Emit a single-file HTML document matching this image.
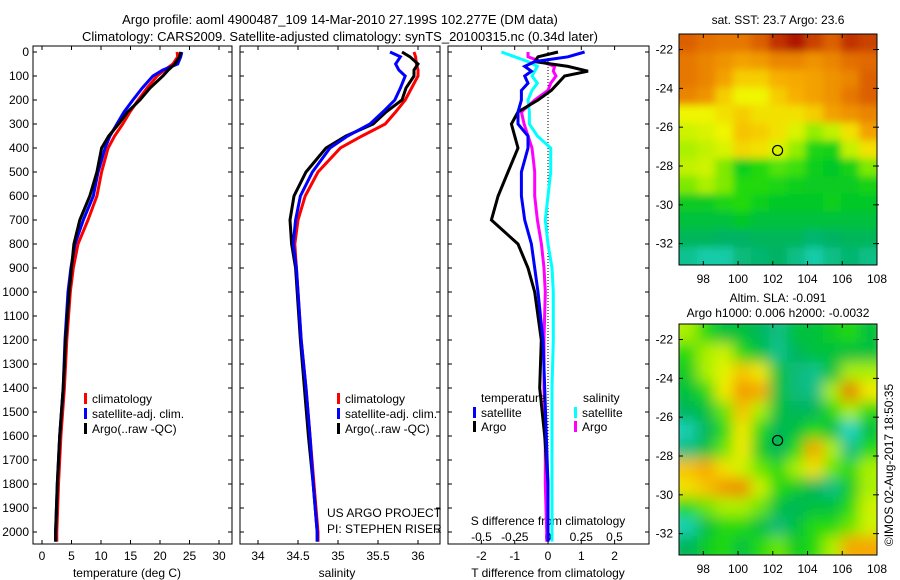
<!DOCTYPE html>
<html><head><meta charset="utf-8"><style>
body{margin:0;background:#fff;}
svg{display:block;font-family:"Liberation Sans",sans-serif;}
</style></head><body>
<svg id="c" width="900" height="580" viewBox="0 0 900 580">
<defs>
<filter id="blur1" x="0" y="0" width="1" height="1"><feGaussianBlur stdDeviation="4"/></filter>
<filter id="blur2" x="0" y="0" width="1" height="1"><feGaussianBlur stdDeviation="7"/></filter>
<clipPath id="clipA"><rect x="679" y="34" width="198" height="231"/></clipPath>
<clipPath id="clipB"><rect x="679" y="324" width="198" height="231"/></clipPath>
</defs>
<text x="340" y="24" font-size="13" text-anchor="middle">Argo profile: aoml 4900487_109 14-Mar-2010 27.199S 102.277E (DM data)</text>
<text x="340" y="41" font-size="13" text-anchor="middle">Climatology: CARS2009. Satellite-adjusted climatology: synTS_20100315.nc (0.34d later)</text>
<text x="127" y="577" font-size="12" text-anchor="middle">temperature (deg C)</text>
<text x="337" y="577" font-size="12" text-anchor="middle">salinity</text>
<text x="548" y="577" font-size="12" text-anchor="middle">T difference from climatology</text>
<text x="548" y="525" font-size="12" text-anchor="middle">S difference from climatology</text>
<text x="327" y="517" font-size="12">US ARGO PROJECT</text>
<text x="327" y="533" font-size="12">PI: STEPHEN RISER</text>
<text x="778" y="24" font-size="12" text-anchor="middle">sat. SST: 23.7 Argo: 23.6</text>
<text x="778" y="302" font-size="12" text-anchor="middle">Altim. SLA: -0.091</text>
<text x="778" y="317" font-size="12" text-anchor="middle">Argo h1000: 0.006 h2000: -0.0032</text>
<text transform="translate(893,465) rotate(-90)" font-size="12" text-anchor="middle">©IMOS 02-Aug-2017 18:50:35</text>
</svg>
<script>
// ---------- data ----------
const depths=[0,20,50,75,100,150,200,250,300,350,400,500,600,700,800,900,1000,1200,1400,1600,1800,2000,2040];
const tempClim=[22.9,23.0,22.2,20.8,19.5,17.8,16.3,14.9,13.7,12.3,11.2,10.1,9.3,7.8,6.1,5.3,4.8,4.2,3.8,3.2,2.8,2.5,2.5];
const tempSat=[23.7,23.5,23.0,20.5,18.8,17.0,15.4,13.9,12.7,11.5,10.7,9.5,8.7,7.0,5.6,4.9,4.4,3.9,3.6,3.0,2.6,2.3,2.3];
const tempArgo=[23.5,23.3,22.5,21.4,20.5,18.3,16.6,14.5,13.0,11.3,10.1,9.3,8.1,6.4,5.4,5.0,4.6,4.0,3.6,3.0,2.6,2.3,2.3];
const salClim=[35.95,35.97,35.98,36.0,36.0,35.92,35.84,35.72,35.59,35.3,35.03,34.75,34.59,34.5,34.46,34.48,34.5,34.54,34.6,34.65,34.7,34.75,34.75];
const salSat=[35.65,35.78,35.72,35.76,35.84,35.78,35.71,35.56,35.4,35.12,34.9,34.68,34.53,34.47,34.44,34.48,34.5,34.54,34.6,34.65,34.69,34.74,34.74];
const salArgo=[35.8,35.9,36.0,35.95,35.95,35.85,35.8,35.6,35.44,35.1,34.85,34.6,34.45,34.4,34.42,34.47,34.49,34.53,34.58,34.63,34.69,34.74,34.74];
const diffDepths=[0,20,40,60,80,100,130,160,200,250,300,350,400,500,600,700,800,900,1000,1200,1400,1600,1800,2000,2040];
const tDiffSat=[1.1,0.6,-0.4,-0.7,-0.5,-0.7,-0.6,-0.8,-0.8,-0.9,-0.9,-0.6,-0.6,-0.8,-0.8,-0.7,-0.5,-0.4,-0.3,-0.15,-0.1,-0.05,0,0,0];
const tDiffArgo=[0.3,-0.3,-0.4,0.6,1.2,0.5,0.3,0.1,-0.3,-0.9,-1.1,-1.0,-0.9,-1.2,-1.5,-1.7,-0.9,-0.6,-0.4,-0.2,-0.25,-0.1,0,0,0];
const sDiffSat=[-0.35,-0.25,-0.15,-0.08,-0.1,-0.12,-0.08,-0.12,-0.15,-0.14,-0.14,-0.08,0.02,0.02,0.0,-0.02,0.0,0.03,0.04,0.04,0.03,0.03,0.03,0.03,0.03];
const sDiffArgo=[-0.15,-0.15,-0.05,0.05,0.04,0.06,0.02,0.0,-0.1,-0.2,-0.18,-0.15,-0.12,-0.1,-0.1,-0.08,-0.05,-0.03,-0.02,-0.03,-0.03,-0.02,-0.02,-0.01,-0.01];
const depthTicks=[0,100,200,300,400,500,600,700,800,900,1000,1100,1200,1300,1400,1500,1600,1700,1800,1900,2000];
const tempTicks=[0,5,10,15,20,25,30];
const salTicks=[34,34.5,35,35.5,36];
const tDiffTicks=[-2,-1,0,1,2];
const sDiffTickLabels=["-0.5","-0.25","0","0.25","0.5"];
const sDiffTicks=[-0.5,-0.25,0,0.25,0.5];
const lonTicks=[98,100,102,104,106,108];
const latTicks=[-22,-24,-26,-28,-30,-32];
const floatLon=102.277, floatLat=-27.199;
const sstGrid=[
[0.86,0.84,0.83,0.83,0.86,0.92,0.96,0.9,0.86,0.92,0.9],
[0.83,0.81,0.79,0.77,0.78,0.81,0.81,0.79,0.81,0.84,0.85],
[0.83,0.81,0.77,0.72,0.72,0.75,0.76,0.77,0.79,0.81,0.86],
[0.81,0.79,0.72,0.68,0.68,0.72,0.75,0.77,0.79,0.83,0.86],
[0.68,0.68,0.7,0.72,0.7,0.7,0.7,0.72,0.77,0.79,0.81],
[0.65,0.66,0.68,0.73,0.72,0.7,0.66,0.61,0.64,0.7,0.77],
[0.62,0.64,0.66,0.71,0.7,0.66,0.61,0.54,0.53,0.64,0.7],
[0.64,0.65,0.6,0.52,0.55,0.58,0.57,0.52,0.5,0.53,0.6],
[0.6,0.62,0.6,0.55,0.55,0.54,0.52,0.51,0.51,0.51,0.53],
[0.51,0.51,0.54,0.55,0.52,0.5,0.5,0.5,0.52,0.5,0.5],
[0.48,0.48,0.48,0.5,0.48,0.48,0.48,0.48,0.48,0.48,0.48],
[0.45,0.45,0.44,0.44,0.45,0.45,0.45,0.43,0.44,0.45,0.45],
[0.4,0.38,0.38,0.42,0.43,0.44,0.41,0.38,0.41,0.43,0.41]];
const slaGrid=[
[0.62,0.55,0.48,0.48,0.45,0.41,0.48,0.48,0.51,0.55,0.48],
[0.55,0.62,0.65,0.55,0.48,0.4,0.45,0.48,0.48,0.48,0.48],
[0.51,0.62,0.67,0.73,0.69,0.48,0.42,0.4,0.48,0.62,0.62],
[0.48,0.55,0.69,0.78,0.76,0.48,0.42,0.41,0.62,0.83,0.69],
[0.45,0.48,0.59,0.73,0.62,0.48,0.45,0.45,0.55,0.62,0.55],
[0.37,0.45,0.55,0.69,0.55,0.45,0.48,0.55,0.48,0.34,0.48],
[0.41,0.48,0.59,0.69,0.51,0.45,0.55,0.76,0.62,0.41,0.55],
[0.73,0.76,0.7,0.65,0.59,0.55,0.62,0.7,0.59,0.55,0.62],
[0.7,0.73,0.78,0.8,0.65,0.55,0.51,0.45,0.41,0.51,0.62],
[0.55,0.59,0.62,0.62,0.59,0.48,0.45,0.48,0.48,0.55,0.65],
[0.37,0.48,0.55,0.55,0.48,0.42,0.48,0.55,0.55,0.59,0.65],
[0.45,0.51,0.55,0.48,0.55,0.59,0.51,0.55,0.62,0.76,0.76]];

// ---------- helpers ----------
const svg=document.getElementById('c');
const NS='http://www.w3.org/2000/svg';
function mk(tag,attrs,parent){const e=document.createElementNS(NS,tag);for(const k in attrs)e.setAttribute(k,attrs[k]);(parent||svg).appendChild(e);return e;}
const yD=d=>52+d*0.24;
const xT=t=>42+t*5.9;
const xS=s=>258+(s-34)*80;
const xTd=v=>548+v*33.3;
const xSd=v=>548+v*133;
const PTOP=46, PBOT=544;
const panels=[{x:33,w:199,n:'temperature-panel'},{x:240,w:200,n:'salinity-panel'},{x:448,w:201,n:'difference-panel'}];

panels.forEach(p=>{
  const r=mk('rect',{x:p.x,y:PTOP,width:p.w,height:PBOT-PTOP,fill:'none',stroke:'#000','stroke-width':1});
  
  
  depthTicks.forEach(d=>{
    mk('line',{x1:p.x,x2:p.x+4,y1:yD(d),y2:yD(d),stroke:'#000'});
    mk('line',{x1:p.x+p.w-4,x2:p.x+p.w,y1:yD(d),y2:yD(d),stroke:'#000'});
  });
});
depthTicks.forEach(d=>{
  const t=mk('text',{x:29,y:yD(d)+4,'font-size':12,'text-anchor':'end'});t.textContent=d;
  
  
});
function xticks(vals,labels,fx,y){
  vals.forEach((v,i)=>{
    const x=fx(v);
    mk('line',{x1:x,x2:x,y1:PBOT,y2:PBOT-4,stroke:'#000'});
    mk('line',{x1:x,x2:x,y1:PTOP,y2:PTOP+4,stroke:'#000'});
    const t=mk('text',{x:x,y:y,'font-size':12,'text-anchor':'middle'});t.textContent=labels[i];
    
    
  });
}
xticks(tempTicks,tempTicks,xT,560);
xticks(salTicks,salTicks,xS,560);
xticks(tDiffTicks,tDiffTicks,xTd,560);
sDiffTicks.forEach((v,i)=>{const t=mk('text',{x:xSd(v),y:541,'font-size':12,'text-anchor':'middle'});t.textContent=sDiffTickLabels[i];
  
  });

const z=mk('line',{x1:xTd(0),x2:xTd(0),y1:PTOP,y2:PBOT,stroke:'#000','stroke-dasharray':'1,2'});



function line(xs,ds,fx,col,name){
  const pts=xs.map((v,i)=>fx(v).toFixed(1)+','+yD(ds[i]).toFixed(1)).join(' ');
  const p=mk('polyline',{points:pts,fill:'none',stroke:col,'stroke-width':3,'stroke-linejoin':'miter'});
  
  
}
line(tempClim,depths,xT,'#ff0000','temp-climatology-line');
line(tempSat,depths,xT,'#0000ff','temp-satellite-line');
line(tempArgo,depths,xT,'#000000','temp-argo-line');
line(salClim,depths,xS,'#ff0000','sal-climatology-line');
line(salArgo,depths,xS,'#000000','sal-argo-line');
line(salSat,depths,xS,'#0000ff','sal-satellite-line');
line(sDiffSat,diffDepths,xSd,'#00ffff','s-diff-satellite-line');
line(sDiffArgo,diffDepths,xSd,'#ff00ff','s-diff-argo-line');
line(tDiffArgo,diffDepths,xTd,'#000000','t-diff-argo-line');
line(tDiffSat,diffDepths,xTd,'#0000ff','t-diff-satellite-line');

function legend(x,y,col,label){
  const g=mk('g',{});
  
  
  mk('rect',{x:x,y:y-9,width:3,height:11,fill:col},g);
  const t=mk('text',{x:x+8,y:y+1,'font-size':12},g);t.textContent=label;
}
legend(84,402,'#ff0000','climatology');legend(84,417,'#0000ff','satellite-adj. clim.');legend(84,432,'#000000','Argo(..raw -QC)');
legend(337,402,'#ff0000','climatology');legend(337,417,'#0000ff','satellite-adj. clim.');legend(337,432,'#000000','Argo(..raw -QC)');
let tt=mk('text',{x:481,y:402,'font-size':12});tt.textContent='temperature';


tt=mk('text',{x:583,y:402,'font-size':12});tt.textContent='salinity';


legend(473,416,'#0000ff','satellite');legend(473,430,'#000000','Argo');
legend(574,416,'#00ffff','satellite');legend(574,430,'#ff00ff','Argo');

// ---------- maps ----------
const stops=[[0.35,[30,215,200]],[0.44,[0,178,100]],[0.5,[0,200,40]],[0.56,[40,220,10]],[0.62,[170,240,0]],[0.68,[240,245,0]],[0.75,[248,175,0]],[0.85,[225,105,0]],[0.96,[175,20,0]]];
function cmap(v){
  if(v<=stops[0][0])return 'rgb('+stops[0][1]+')';
  for(let i=1;i<stops.length;i++){if(v<=stops[i][0]){const a=stops[i-1],b=stops[i],f=(v-a[0])/(b[0]-a[0]);
    return 'rgb('+a[1].map((c,k)=>Math.round(c+(b[1][k]-c)*f)).join(',')+')';}}
  return 'rgb('+stops[stops.length-1][1]+')';
}
const LON0=96.6,LON1=108,LAT0=-21.2,LAT1=-33.1;
function drawMap(grid,top,clip,filt,name){
  const xL=lon=>679+(lon-LON0)/(LON1-LON0)*198;
  const yL=lat=>top+(lat-LAT0)/(LAT1-LAT0)*231;
  const outer=mk('g',{'clip-path':'url(#'+clip+')'});
  
  
  const g=mk('g',{filter:'url(#'+filt+')'},outer);
  mk('rect',{x:669,y:top-10,width:220,height:251,fill:cmap(grid[0][0])},g);
  const rows=grid.length,cols=grid[0].length;
  const cw=(LON1-LON0)/cols,ch=(LAT1-LAT0)/rows;
  grid.forEach((row,r)=>row.forEach((v,c)=>{
    const x0=xL(LON0+c*cw),y0=yL(LAT0+r*ch);
    const cell=mk('rect',{x:x0-(c==0?10:0),y:y0-(r==0?10:0),width:xL(LON0+(c+1)*cw)-x0+0.6+(c==0?10:0)+(c==cols-1?10:0),height:yL(LAT0+(r+1)*ch)-y0+0.6+(r==0?10:0)+(r==rows-1?10:0),fill:cmap(v)},g);
    
    
  }));
  const fr=mk('rect',{x:679,y:top,width:198,height:231,fill:'none',stroke:'#000'});
  
  
  lonTicks.forEach(l=>{const x=xL(l);mk('line',{x1:x,x2:x,y1:top+231,y2:top+227,stroke:'#000'});mk('line',{x1:x,x2:x,y1:top,y2:top+4,stroke:'#000'});
    const t=mk('text',{x:x,y:top+249,'font-size':12,'text-anchor':'middle'});t.textContent=l;
    
    });
  latTicks.forEach(l=>{const y=yL(l);mk('line',{x1:679,x2:683,y1:y,y2:y,stroke:'#000'});mk('line',{x1:873,x2:879,y1:y,y2:y,stroke:'#000'});
    const t=mk('text',{x:673,y:y+4,'font-size':12,'text-anchor':'end'});t.textContent=l;
    
    });
  const m=mk('circle',{cx:xL(floatLon),cy:yL(floatLat),r:5,fill:'none',stroke:'#000','stroke-width':1.2});
  
  
}
drawMap(sstGrid,34,'clipA','blur1','sst-map');
drawMap(slaGrid,324,'clipB','blur2','sla-map');
</script>
</body></html>
